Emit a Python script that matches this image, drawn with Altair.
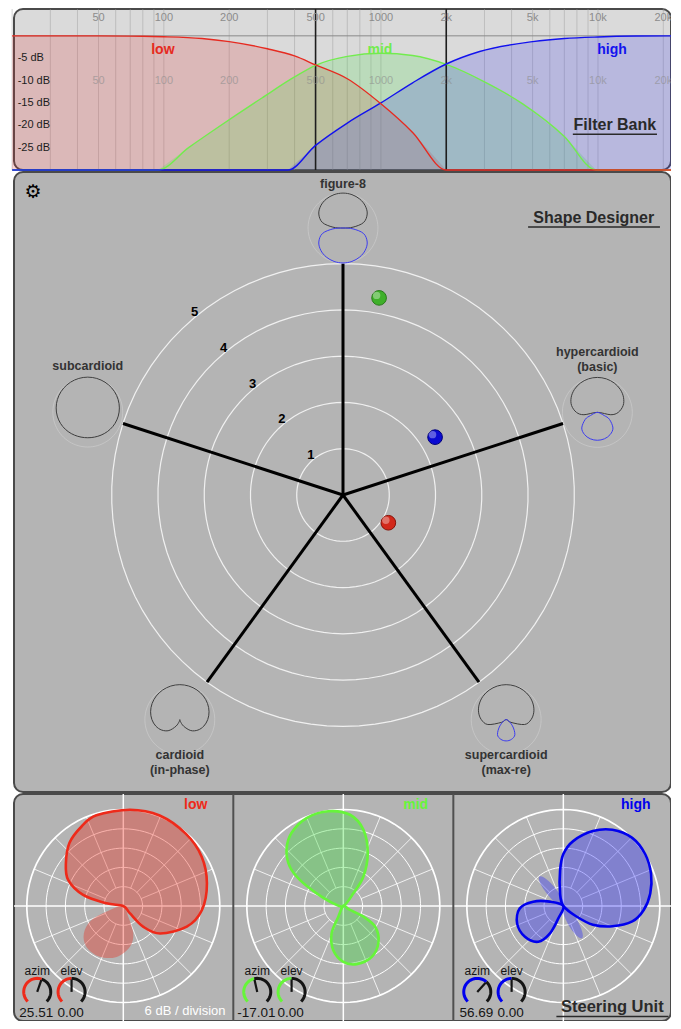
import altair as alt
import pandas as pd

FONT = "Liberation Sans, Arial, Helvetica, sans-serif"
TXT = "#2a2a2a"

W, H = 657, 1012
FB_TOP, FB_BOT = 0, 161
SD_TOP, SD_BOT, SD_CY = 163, 783, 486
ST_TOP, ST_BOT, ST_CY = 785, 1012, 897


def X(field, scale):
    return alt.X(f"{field}:Q", scale=scale, axis=None)


def Y(field, scale):
    return alt.Y(f"{field}:Q", scale=scale, axis=None)


# ======================= FILTER BANK =======================
BANDS = ["low", "mid", "high"]
FB_LINE = ["#e62a20", "#72ec4e", "#1212ee"]
FB_AREA = ["#e03030", "#40e040", "#3030f0"]

LOW_F = [20, 50, 80, 100, 150, 200, 300, 400, 500, 700, 1000, 1400, 2000, 21700]
LOW_DB = [0, 0, -0.1, -0.2, -0.6, -1.3, -2.9, -4.5, -6.5, -9.6, -15.2, -21.6, -30, -30]
MID_F = [20, 94, 130, 177, 283, 400, 500, 700, 1000, 1400, 2000, 3000, 4500, 7000, 9800, 21700]
MID_DB = [-30, -30, -25, -20.5, -13.9, -9.2, -6.6, -4.6, -3.9, -4.4, -6.4, -10.3, -15.2, -22.5, -30, -30]
HIGH_F = [20, 373, 500, 700, 1000, 1400, 2000, 2850, 5000, 7000, 10000, 15000, 21700]
HIGH_DB = [-30, -30, -24.5, -19.5, -15.0, -10.5, -6.3, -3.5, -1.3, -0.6, -0.25, -0.05, 0]

GRID_F = [20, 30, 40, 50, 60, 70, 80, 90, 100, 200, 300, 400, 500, 600, 700, 800, 900,
          1000, 2000, 3000, 4000, 5000, 6000, 7000, 8000, 9000, 10000, 20000]
XOVER_F = [500, 2000]
FREQ_TICKS = [50, 100, 200, 500, 1000, 2000, 5000, 10000, 20000]
FREQ_LABELS = ["50", "100", "200", "500", "1000", "2k", "5k", "10k", "20k"]
DB_TICKS = [-5, -10, -15, -20, -25]
DB_LABELS = ["-5 dB", "-10 dB", "-15 dB", "-20 dB", "-25 dB"]

F_DOMAIN = [20.4, 21700]
DB_DOMAIN = [-30, 6]
FXS = alt.Scale(type="log", domain=F_DOMAIN, range=[0, W], nice=False)
FYS = alt.Scale(domain=DB_DOMAIN, range=[FB_BOT, FB_TOP], nice=False, zero=False)

rows, fill_rows = [], []
for band, fs, dbs in [("low", LOW_F, LOW_DB), ("mid", MID_F, MID_DB), ("high", HIGH_F, HIGH_DB)]:
    for i, (f, d) in enumerate(zip(fs, dbs)):
        rows.append({"band": band, "i": i, "f": f, "db": d})
    pts = list(zip(fs, dbs))
    if pts[0][1] > DB_DOMAIN[0]:
        pts = [(fs[0], DB_DOMAIN[0])] + pts
    if pts[-1][1] > DB_DOMAIN[0]:
        pts = pts + [(fs[-1], DB_DOMAIN[0])]
    for i, (f, d) in enumerate(pts):
        fill_rows.append({"band": band, "i": i, "f": f, "db": d})
curves = pd.DataFrame(rows)
fills = pd.DataFrame(fill_rows)

fb = []
fb.append(alt.Chart(pd.DataFrame({"f": [F_DOMAIN[0]], "f2": [F_DOMAIN[1]], "db": [DB_DOMAIN[0]],
                                  "db2": [DB_DOMAIN[1]]})).mark_rect(
    cornerRadius=9, fill="#dadada", stroke="#4a4a4a", strokeWidth=2).encode(
    x=X("f", FXS), x2="f2:Q", y=Y("db", FYS), y2="db2:Q"))
fb.append(alt.Chart(pd.DataFrame({"f": GRID_F, "db": DB_DOMAIN[0], "db2": DB_DOMAIN[1]})).mark_rule(
    color="#9c9c9c", strokeWidth=1, opacity=0.45).encode(x=X("f", FXS), y=Y("db", FYS), y2="db2:Q"))
for b, c in zip(BANDS, FB_AREA):
    fb.append(alt.Chart(fills).transform_filter(alt.datum.band == b).mark_line(
        fill=c, fillOpacity=0.2, strokeWidth=0, interpolate="linear").encode(
        x=X("f", FXS), y=Y("db", FYS), order="i:Q"))
fb.append(alt.Chart(pd.DataFrame({"f": [F_DOMAIN[0]], "f2": [F_DOMAIN[1]], "db": [0]})).mark_rule(
    color="#8a8a8a", strokeWidth=1).encode(x=X("f", FXS), x2="f2:Q", y=Y("db", FYS)))
fb.append(alt.Chart(pd.DataFrame({"f": XOVER_F, "db": DB_DOMAIN[0], "db2": DB_DOMAIN[1]})).mark_rule(
    color="#1e1e1e", strokeWidth=1.6).encode(x=X("f", FXS), y=Y("db", FYS), y2="db2:Q"))
for b in ["mid", "high", "low"]:
    c = FB_LINE[BANDS.index(b)]
    fb.append(alt.Chart(curves).transform_filter(alt.datum.band == b).mark_line(
        color=c, strokeWidth=1.4, interpolate="monotone").encode(x=X("f", FXS), y=Y("db", FYS), order="i:Q"))
fb.append(alt.Chart(pd.DataFrame({"f": FREQ_TICKS, "db": [4.0] * 9, "t": FREQ_LABELS})).mark_text(
    font=FONT, fontSize=11, color="#8c8c8c").encode(x=X("f", FXS), y=Y("db", FYS), text="t:N"))
fb.append(alt.Chart(pd.DataFrame({"f": FREQ_TICKS, "db": [-10.2] * 9, "t": FREQ_LABELS})).mark_text(
    font=FONT, fontSize=11, color="#8c8c8c", opacity=0.6).encode(x=X("f", FXS), y=Y("db", FYS), text="t:N"))
fb.append(alt.Chart(pd.DataFrame({"f": [21.2] * 5, "db": DB_TICKS, "t": DB_LABELS})).mark_text(
    font=FONT, fontSize=11, align="left", color="#1c1c1c").encode(x=X("f", FXS), y=Y("db", FYS), text="t:N"))
for b, f, c in zip(BANDS, [99, 990, 11600], FB_LINE):
    fb.append(alt.Chart(pd.DataFrame({"f": [f], "db": [-3.1], "t": [b]})).mark_text(
        font=FONT, fontSize=14, fontWeight="bold", color=c).encode(x=X("f", FXS), y=Y("db", FYS), text="t:N"))
fb.append(alt.Chart(pd.DataFrame({"f": [11960], "db": [-19.9], "t": ["Filter Bank"]})).mark_text(
    font=FONT, fontSize=16, fontWeight="bold", color=TXT).encode(x=X("f", FXS), y=Y("db", FYS), text="t:N"))
fb.append(alt.Chart(pd.DataFrame({"f": [7660], "f2": [18700], "db": [-22.0]})).mark_rule(
    color=TXT, strokeWidth=1.5).encode(x=X("f", FXS), x2="f2:Q", y=Y("db", FYS)))
filter_bank = alt.layer(*fb)

# ======================= SHAPE DESIGNER =======================
SD_UNIT = 46.27
SD_CX_PX = 329
RINGS = [1, 2, 3, 4, 5]
SPOKE_DIRS = [0, 72, 144, 216, 288]
SPOKE_LEN = 5
RING_LABEL_DIR = -39
CIRCLE_STEP = list(range(0, 361, 4))   # sampling of drawn circles (geometry only)

ICON_KEYS = ["fig8", "hyper", "super", "card", "sub"]
ICON_DIR = [0, 72, 144, 216, 288]
ICON_DIST = [5.77, 5.78, 6.0, 6.0, 5.8]
ICON_R = 0.755
ICON_POS = {
    "fig8": ([0, 15, 30, 45, 60, 75, 85, 90], [1, .99, .958, .90, .80, .61, .29, 0]),
    "hyper": ([0, 15, 30, 45, 60, 75, 90, 100, 108], [1, .993, .969, .928, .864, .765, .599, .39, 0]),
    "super": ([0, 15, 30, 45, 60, 75, 90, 105, 120, 126], [1, .994, .974, .941, .89, .818, .712, .544, .16, 0]),
    "card": ([0, 15, 30, 45, 60, 75, 90, 105, 120, 135, 150, 165, 180],
             [1, .995, .98, .954, .917, .866, .799, .713, .599, .443, .217, .05, 0]),
    "sub": ([0, 15, 30, 45, 60, 75, 90, 105, 120, 135, 150, 165, 180],
            [1, .997, .988, .973, .953, .927, .897, .863, .827, .792, .762, .742, .735]),
}
ICON_NEG = {
    "fig8": ([90, 95, 105, 120, 135, 150, 165, 180], [0, .29, .61, .80, .90, .958, .99, 1]),
    "hyper": ([110, 115, 120, 135, 150, 165, 180], [0, .217, .398, .631, .734, .784, .799]),
    "super": ([126, 135, 150, 165, 180], [0, .253, .497, .585, .61]),
}
ICON_LABELS = [("fig8", "figure-8", 0.95), ("hyper", "hypercardioid", 1.30), ("hyper", "(basic)", 0.99),
               ("super", "supercardioid", -0.76), ("super", "(max-re)", -1.08),
               ("card", "cardioid", -0.76), ("card", "(in-phase)", -1.08), ("sub", "subcardioid", 0.99)]

BALL_X = [0.78, 1.99, 0.98]
BALL_Y = [4.26, 1.25, -0.60]
BALL_FILL = ["#3fb02a", "#0a0ad2", "#d2281a"]
BALL_EDGE = ["#2a7a1c", "#00007a", "#861208"]

SD_XDOM = [-SD_CX_PX / SD_UNIT, (W - SD_CX_PX) / SD_UNIT]
SD_YDOM = [-(SD_BOT - SD_CY) / SD_UNIT, (SD_CY - SD_TOP) / SD_UNIT]
SXS = alt.Scale(domain=SD_XDOM, range=[0, W], nice=False, zero=False)
SYS = alt.Scale(domain=SD_YDOM, range=[SD_BOT, SD_TOP], nice=False, zero=False)
sx, sy = X("x", SXS), Y("y", SYS)


def closed_outline(angles, levels):
    pts = list(zip(angles, levels))
    return pts + [(360 - a, l) for a, l in reversed(pts[1:-1])]


icon_rows = []
for key, d, dist in zip(ICON_KEYS, ICON_DIR, ICON_DIST):
    for pol, src in (("pos", ICON_POS), ("neg", ICON_NEG)):
        if key not in src:
            continue
        for i, (a, l) in enumerate(closed_outline(*src[key])):
            icon_rows.append({"key": key + pol, "pol": pol, "i": i, "a": a, "l": l, "dir": d, "dist": dist})
icons = pd.DataFrame(icon_rows)
sd_ring_rows = [{"r": r, "i": i, "t": t} for r in RINGS for i, t in enumerate(CIRCLE_STEP)]
icon_circle_rows = [{"key": k, "dir": d, "dist": s, "i": i, "t": t}
                    for k, d, s in zip(ICON_KEYS, ICON_DIR, ICON_DIST) for i, t in enumerate(CIRCLE_STEP)]
lab_rows = []
for key, t, dy in ICON_LABELS:
    k = ICON_KEYS.index(key)
    lab_rows.append({"t": t, "dir": ICON_DIR[k], "dist": ICON_DIST[k], "dy": dy})
icon_labels = pd.DataFrame(lab_rows)

sd = []
sd.append(alt.Chart(pd.DataFrame({"x": [SD_XDOM[0]], "x2": [SD_XDOM[1]], "y": [SD_YDOM[0]],
                                  "y2": [SD_YDOM[1]]})).mark_rect(
    cornerRadius=9, fill="#b4b4b4", stroke="#4a4a4a", strokeWidth=2).encode(
    x=sx, x2="x2:Q", y=sy, y2="y2:Q"))
sd.append(alt.Chart(pd.DataFrame(sd_ring_rows)).transform_calculate(
    x="datum.r*sin(datum.t*PI/180)", y="datum.r*cos(datum.t*PI/180)").mark_line(
    color="#f0f0f0", strokeWidth=1.2).encode(x=sx, y=sy, detail="r:N", order="i:Q"))
sd.append(alt.Chart(pd.DataFrame(icon_circle_rows)).transform_calculate(
    x=f"datum.dist*sin(datum.dir*PI/180) + {ICON_R}*sin(datum.t*PI/180)",
    y=f"datum.dist*cos(datum.dir*PI/180) + {ICON_R}*cos(datum.t*PI/180)").mark_line(
    color="#d6d6d6", strokeWidth=1, opacity=0.5).encode(x=sx, y=sy, detail="key:N", order="i:Q"))
sd.append(alt.Chart(pd.DataFrame({"a": SPOKE_DIRS})).transform_calculate(
    x="0", y="0", x2=f"{SPOKE_LEN}*sin(datum.a*PI/180)", y2=f"{SPOKE_LEN}*cos(datum.a*PI/180)").mark_rule(
    color="black", strokeWidth=3).encode(x=sx, y=sy, x2="x2:Q", y2="y2:Q"))
sd.append(alt.Chart(pd.DataFrame({"k": RINGS, "t": [str(k) for k in RINGS]})).transform_calculate(
    x=f"(datum.k+0.1)*sin({RING_LABEL_DIR}*PI/180)", y=f"(datum.k+0.1)*cos({RING_LABEL_DIR}*PI/180)").mark_text(
    font=FONT, fontSize=13, fontWeight="bold", color="black").encode(x=sx, y=sy, text="t:N"))
for pol, col in (("pos", "#3d3d3d"), ("neg", "#3c3cf0")):
    sd.append(alt.Chart(icons).transform_filter(alt.datum.pol == pol).transform_calculate(
        x=f"datum.dist*sin(datum.dir*PI/180) + {ICON_R}*datum.l*sin(datum.a*PI/180)",
        y=f"datum.dist*cos(datum.dir*PI/180) + {ICON_R}*datum.l*cos(datum.a*PI/180)").mark_line(
        interpolate="cardinal-closed", strokeWidth=1, color=col).encode(
        x=sx, y=sy, detail="key:N", order="i:Q"))
sd.append(alt.Chart(icon_labels).transform_calculate(
    x="datum.dist*sin(datum.dir*PI/180)", y="datum.dist*cos(datum.dir*PI/180) + datum.dy").mark_text(
    font=FONT, fontSize=12.5, fontWeight="bold", color="#333333").encode(x=sx, y=sy, text="t:N"))
for bx, by, fc, ec in zip(BALL_X, BALL_Y, BALL_FILL, BALL_EDGE):
    bdf = pd.DataFrame({"x": [bx], "y": [by]})
    sd.append(alt.Chart(bdf).mark_circle(size=215, opacity=1, fill=fc, stroke=ec,
                                         strokeWidth=1).encode(x=sx, y=sy))
    sd.append(alt.Chart(bdf).mark_circle(size=55, color="white", opacity=0.35, xOffset=-2.5,
                                         yOffset=-2.5).encode(x=sx, y=sy))
sd.append(alt.Chart(pd.DataFrame({"x": [-6.70], "y": [6.55], "t": ["\u2699"]})).mark_text(
    font="DejaVu Sans", fontSize=19, color="black").encode(x=sx, y=sy, text="t:N"))
sd.append(alt.Chart(pd.DataFrame({"x": [5.42], "y": [5.99], "t": ["Shape Designer"]})).mark_text(
    font=FONT, fontSize=16, fontWeight="bold", color=TXT).encode(x=sx, y=sy, text="t:N"))
sd.append(alt.Chart(pd.DataFrame({"x": [4.0], "x2": [6.85], "y": [5.79]})).mark_rule(
    color=TXT, strokeWidth=1.5).encode(x=sx, x2="x2:Q", y=sy))
shape_designer = alt.layer(*sd)

# ======================= STEERING UNIT =======================
ST_UNIT = 19.3          # pixels per 6 dB division
ST_CX_PX = 109.3
BAND_CX = [0.0, 11.4, 22.8]
SEPARATORS = [5.7, 17.1]
DIVISIONS = [1, 2, 3, 4, 5]
SPOKE_ANGLES = [22.5, 45, 67.5, 112.5, 135, 157.5, 202.5, 225, 247.5, 292.5, 315, 337.5]
ST_LINE = ["#ee2a1a", "#66f53a", "#0000ee"]
ST_FILL = ["#ee2211", "#33dd33", "#2222ff"]

LOBES = [
    ("low", 1, [-88, -81, -74.6, -64.7, -53.3, -40.4, -27.5, -16.5, 4, 21.9, 41, 57.8, 74.8, 92.9, 108, 126.7, 136, 138],
     [0, 0.88, 2.16, 3.16, 3.71, 4.3, 4.66, 4.9, 5.0, 5.05, 4.95, 4.8, 4.49, 4.08, 3.46, 2.38, 1.5, 0.52]),
    ("low", 0, [-100, -106.7, -113.9, -124.8, -138, -155, -172.5, -189.3, -200, -205],
     [0, 0.72, 1.8, 2.49, 2.85, 2.9, 2.66, 2.14, 1.51, 0.61]),
    ("mid", 1, [40, 38.3, 34.3, 24.8, 14.7, 4.2, -9, -22.7, -35.4, -45.3, -53.6, -59, -64.6, -75],
     [0, 0.84, 1.85, 3.02, 4.09, 4.74, 4.97, 4.94, 4.64, 4.14, 3.45, 2.63, 1.53, 0.54]),
    ("mid", 1, [-150, -154.9, -156.9, -167.2, -180, -193, -209.2, -224.5, -236.9, -242, -239],
     [0, 0.61, 1.55, 2.35, 2.89, 3.09, 3.02, 2.6, 1.97, 1.18, 0.4]),
    ("high", 1, [-20, -14.7, -5.3, 0, 8.6, 21.5, 32.8, 45.3, 57.7, 69.9, 81.8, 92.8, 102.6, 112.5, 122.3, 128.7],
     [0, 0.67, 1.84, 2.69, 3.4, 4.17, 4.7, 5.02, 5.02, 4.84, 4.55, 4.17, 3.66, 2.75, 1.81, 0.87]),
    ("high", 1, [-65, -72, -81.8, -93.1, -110.6, -128.7, -145, -154, -158],
     [0, 0.73, 1.58, 2.26, 2.56, 2.55, 2.26, 1.58, 0.69]),
    ("high", 0, [-39, 5.8, -14.3, -24.1, -30.3, -34.9, -39, -43.1, -47.7, -53.9, -63.7, -83.8],
     [0, .185, .539, 1.014, 1.487, 1.834, 1.96, 1.834, 1.487, 1.014, .539, .185]),
    ("high", 0, [150, 194.8, 174.7, 164.9, 158.7, 154.1, 150, 145.9, 141.3, 135.1, 125.3, 105.2],
     [0, .185, .539, 1.0, 1.46, 1.8, 1.93, 1.8, 1.46, 1.0, .539, .185]),
]

AZIM = [25.51, -17.01, 56.69]
ELEV = [0.00, 0.00, 0.00]
KNOB_DX = {"azim": -4.46, "elev": -2.68}
KNOB_DY = -4.45
KNOB_R = 0.7            # dial radius in divisions
KNOB_GAIN = 0.75        # dial degrees per unit of value
KNOB_START, KNOB_END = -135, 135

ST_XDOM = [-ST_CX_PX / ST_UNIT, (W - ST_CX_PX) / ST_UNIT]
ST_YDOM = [-(ST_BOT - ST_CY) / ST_UNIT, (ST_CY - ST_TOP) / ST_UNIT]
TXS = alt.Scale(domain=ST_XDOM, range=[0, W], nice=False, zero=False)
TYS = alt.Scale(domain=ST_YDOM, range=[ST_BOT, ST_TOP], nice=False, zero=False)
tx, ty = X("x", TXS), Y("y", TYS)

cx_of = dict(zip(BANDS, BAND_CX))
lobe_rows = []
for n, (band, outlined, angs, lvls) in enumerate(LOBES):
    for i, (a, l) in enumerate(zip(angs, lvls)):
        lobe_rows.append({"band": band, "lobe": n, "outlined": outlined, "i": i, "a": a, "l": l,
                          "cx": cx_of[band]})
lobes = pd.DataFrame(lobe_rows)
st_ring_rows = [{"cx": cx, "r": r, "key": f"{cx}-{r}", "i": i, "t": t}
                for cx in BAND_CX for r in DIVISIONS for i, t in enumerate(CIRCLE_STEP)]
spoke_rows = [{"cx": cx, "a": a} for cx in BAND_CX for a in SPOKE_ANGLES]

knob_rows, ptr_rows, ktext_rows = [], [], []
for band, cx, az, el in zip(BANDS, BAND_CX, AZIM, ELEV):
    for kind, v in (("azim", az), ("elev", el)):
        kx = cx + KNOB_DX[kind]
        p = KNOB_GAIN * v
        steps_on = [KNOB_START + (p - KNOB_START) * j / 24 for j in range(25)]
        steps_off = [p + (KNOB_END - p) * j / 24 for j in range(25)]
        for part, steps in (("on", steps_on), ("off", steps_off)):
            for i, t in enumerate(steps):
                knob_rows.append({"band": band, "key": f"{band}{kind}{part}", "part": part,
                                  "kx": kx, "ky": KNOB_DY, "i": i, "t": t})
        ptr_rows.append({"x": kx, "y": KNOB_DY, "p": p})
        ktext_rows.append({"x": kx, "y": -3.38, "t": kind, "val": 0})
        ktext_rows.append({"x": kx - 0.05, "y": -5.52, "t": f"{v:.2f}", "val": 1})
knobs = pd.DataFrame(knob_rows)
ktext = pd.DataFrame(ktext_rows)

st = []
st.append(alt.Chart(pd.DataFrame({"x": [ST_XDOM[0]], "x2": [ST_XDOM[1]], "y": [ST_YDOM[0]],
                                  "y2": [ST_YDOM[1]]})).mark_rect(
    cornerRadius=9, fill="#b4b4b4", stroke="#4a4a4a", strokeWidth=2).encode(
    x=tx, x2="x2:Q", y=ty, y2="y2:Q"))
st.append(alt.Chart(pd.DataFrame({"x": BAND_CX, "y": ST_YDOM[0], "y2": ST_YDOM[1]})).mark_rule(
    color="white", strokeWidth=1.5).encode(x=tx, y=ty, y2="y2:Q"))
st.append(alt.Chart(pd.DataFrame({"x": [ST_XDOM[0]], "x2": [ST_XDOM[1]], "y": [0]})).mark_rule(
    color="white", strokeWidth=1.5).encode(x=tx, x2="x2:Q", y=ty))
ring_xy = dict(x="datum.cx + datum.r*sin(datum.t*PI/180)", y="datum.r*cos(datum.t*PI/180)")
st.append(alt.Chart(pd.DataFrame(st_ring_rows)).transform_filter(alt.datum.r < 5).transform_calculate(
    **ring_xy).mark_line(color="white", strokeWidth=1).encode(x=tx, y=ty, detail="key:N", order="i:Q"))
st.append(alt.Chart(pd.DataFrame(st_ring_rows)).transform_filter(alt.datum.r == 5).transform_calculate(
    **ring_xy).mark_line(color="white", strokeWidth=1.7).encode(x=tx, y=ty, detail="key:N", order="i:Q"))
st.append(alt.Chart(pd.DataFrame(spoke_rows)).transform_calculate(
    x="datum.cx + sin(datum.a*PI/180)", y="cos(datum.a*PI/180)",
    x2="datum.cx + 5*sin(datum.a*PI/180)", y2="5*cos(datum.a*PI/180)").mark_rule(
    color="white", strokeWidth=0.9, opacity=0.9).encode(x=tx, y=ty, x2="x2:Q", y2="y2:Q"))
lobe_xy = dict(x="datum.cx + datum.l*sin(datum.a*PI/180)", y="datum.l*cos(datum.a*PI/180)")
for b, fc in zip(BANDS, ST_FILL):
    st.append(alt.Chart(lobes).transform_filter(alt.datum.band == b).transform_calculate(
        **lobe_xy).mark_line(interpolate="cardinal-closed", fill=fc, fillOpacity=0.35, strokeWidth=0).encode(
        x=tx, y=ty, detail="lobe:N", order="i:Q"))
for b, lc in zip(BANDS, ST_LINE):
    st.append(alt.Chart(lobes).transform_filter(
        (alt.datum.band == b) & (alt.datum.outlined == 1)).transform_calculate(**lobe_xy).mark_line(
        interpolate="cardinal-closed", color=lc, strokeWidth=2.6).encode(
        x=tx, y=ty, detail="lobe:N", order="i:Q"))
st.append(alt.Chart(pd.DataFrame({"x": SEPARATORS, "y": ST_YDOM[0], "y2": ST_YDOM[1]})).mark_rule(
    color="#505050", strokeWidth=2).encode(x=tx, y=ty, y2="y2:Q"))
knob_xy = dict(x=f"datum.kx + {KNOB_R}*sin(datum.t*PI/180)", y=f"datum.ky + {KNOB_R}*cos(datum.t*PI/180)")
for b, lc in zip(BANDS, ST_LINE):
    st.append(alt.Chart(knobs).transform_filter(
        (alt.datum.band == b) & (alt.datum.part == "on")).transform_calculate(**knob_xy).mark_line(
        color=lc, strokeWidth=3).encode(x=tx, y=ty, detail="key:N", order="i:Q"))
st.append(alt.Chart(knobs).transform_filter(alt.datum.part == "off").transform_calculate(
    **knob_xy).mark_line(color="#151515", strokeWidth=3).encode(x=tx, y=ty, detail="key:N", order="i:Q"))
st.append(alt.Chart(pd.DataFrame(ptr_rows)).transform_calculate(
    x2="datum.x + 0.64*sin(datum.p*PI/180)", y2="datum.y + 0.64*cos(datum.p*PI/180)").mark_rule(
    color="#151515", strokeWidth=2.2).encode(x=tx, y=ty, x2="x2:Q", y2="y2:Q"))
st.append(alt.Chart(ktext).transform_filter(alt.datum.val == 0).mark_text(
    font=FONT, fontSize=12, color="#151515").encode(x=tx, y=ty, text="t:N"))
st.append(alt.Chart(ktext).transform_filter(alt.datum.val == 1).mark_text(
    font=FONT, fontSize=13.5, color="#151515").encode(x=tx, y=ty, text="t:N"))
for b, cx, lc in zip(BANDS, BAND_CX, ST_LINE):
    st.append(alt.Chart(pd.DataFrame({"x": [cx + 3.75], "y": [5.22], "t": [b]})).mark_text(
        font=FONT, fontSize=14, fontWeight="bold", color=lc).encode(x=tx, y=ty, text="t:N"))
st.append(alt.Chart(pd.DataFrame({"x": [3.2], "y": [-5.45], "t": ["6 dB / division"]})).mark_text(
    font=FONT, fontSize=13, color="white").encode(x=tx, y=ty, text="t:N"))
st.append(alt.Chart(pd.DataFrame({"x": [25.34], "y": [-5.22], "t": ["Steering Unit"]})).mark_text(
    font=FONT, fontSize=16.5, fontWeight="bold", color=TXT).encode(x=tx, y=ty, text="t:N"))
st.append(alt.Chart(pd.DataFrame({"x": [22.44], "x2": [28.24], "y": [-5.72]})).mark_rule(
    color=TXT, strokeWidth=1.5).encode(x=tx, x2="x2:Q", y=ty))
steering = alt.layer(*st)

chart = alt.layer(filter_bank, shape_designer, steering).resolve_scale(
    x="independent", y="independent").properties(
    width=W, height=H, background="white",
    padding={"left": 6, "top": 1, "right": 0, "bottom": 0},
    autosize=alt.AutoSizeParams(type="none")).configure_view(strokeWidth=0)

chart.save("out.html", embed_options={"renderer": "svg", "actions": False})
